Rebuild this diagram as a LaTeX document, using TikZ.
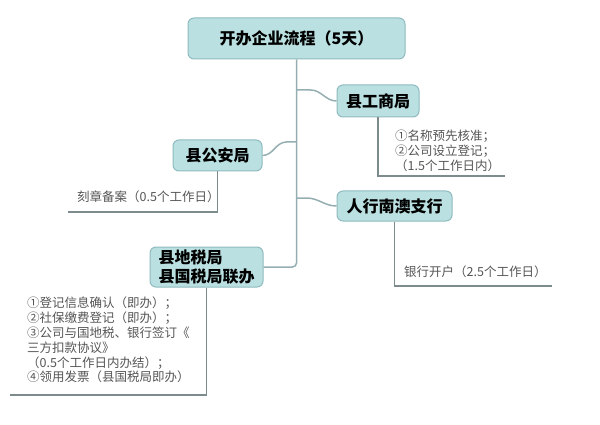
\documentclass[tikz,border=0pt]{standalone}
\usepackage{fontspec}
\setmainfont{Noto Sans CJK SC}
\definecolor{cajafondo}{HTML}{BAE0E2}
\definecolor{cajaborde}{HTML}{8FBBBE}
\definecolor{colrama}{HTML}{95AEB2}
\definecolor{colnota}{HTML}{555555}
\definecolor{colbajo}{HTML}{7E8B8C}

\begin{document}
\begin{tikzpicture}[x=1pt,y=-1pt,
        caja/.style={draw=cajaborde, fill=cajafondo, line width=1pt, rounded corners=6pt,
            inner sep=0pt, font=\bfseries\fontsize{16}{19}\selectfont},
        rama/.style={draw=colrama, line width=1.5pt},
        bajo/.style={draw=colbajo, line width=1.2pt},
        nota/.style={text=colnota, align=left, inner sep=0pt, anchor=north west,
            font=\fontsize{12.5}{14.8}\selectfont}]
        \useasboundingbox (0,0) rectangle (600,425);

        % Cajas
        \node[caja, minimum width=217, minimum height=41] (raiz) at (296.5,38.5) {开办企业流程（5天）};
        \node[caja, minimum width=82, minimum height=32] (gs) at (378,101) {县工商局};
        \node[caja, minimum width=89, minimum height=31] (ga) at (217.5,155.5) {县公安局};
        \node[caja, minimum width=115, minimum height=30] (rh) at (394.5,206) {人行南澳支行};
        \node[caja, minimum width=113, minimum height=40, align=left] (ds) at (206.5,267) {县地税局\\县国税局联办};

        % Tronco y ramas
        \coordinate (t1) at (296.5,90);
        \coordinate (t2) at (296.5,142);
        \coordinate (t3) at (296.5,198);
        \draw[rama, rounded corners=4pt] (raiz.south) |- (ds.east);
        \draw[rama] (t1) -- ++(14,0) to[out=0,in=180] (gs.west);
        \draw[rama] (t2) -- ++(-10,0) to[out=180,in=0] (ga.east);
        \draw[rama] (t3) -- ++(10,0) to[out=0,in=180] (rh.west);

        % Notas
        \node[nota] (gs-nota) at (395,130) {①名称预先核准；\\②公司设立登记；\\（1.5个工作日内）};
        \node[nota] (ga-nota) at (77,191) {刻章备案（0.5个工作日）};
        \node[nota] (rh-nota) at (404,266) {银行开户（2.5个工作日）};
        \node[nota] (ds-nota) at (27,297) {①登记信息确认（即办）；\\②社保缴费登记（即办）；\\③公司与国地税、银行签订《\\三方扣款协议》\\（0.5个工作日内办结）；\\④领用发票（县国税局即办）};

        % Subrayados
        \coordinate (gsfin) at (505,176);
        \coordinate (gafin) at (68,212);
        \coordinate (rhfin) at (552,286);
        \coordinate (dsfin) at (10,395);
        \draw[bajo] (gs.south) |- (gsfin);
        \draw[bajo] (ga.south) |- (gafin);
        \draw[bajo] (rh.south) |- (rhfin);
        \draw[bajo] (ds.south) |- (dsfin);
    \end{tikzpicture}
\end{document}
